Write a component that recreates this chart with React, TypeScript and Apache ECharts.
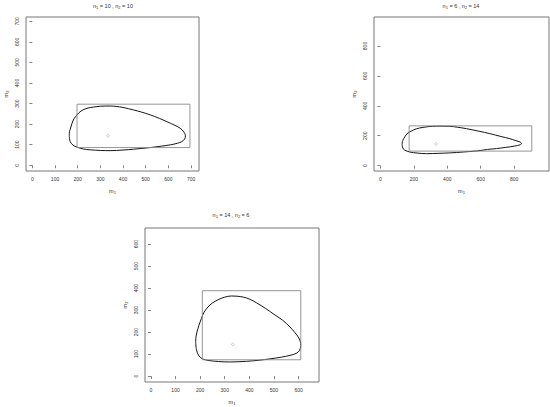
import React, { useEffect, useRef } from "react";
import * as echarts from "echarts";

// ---- data ----
const titleN1 = ["10", "6", "14"];
const titleN2 = ["10", "14", "6"];

const xTicks1 = [0, 100, 200, 300, 400, 500, 600, 700];
const yTicks1 = [0, 100, 200, 300, 400, 500, 600, 700];
const xTicks2 = [0, 200, 400, 600, 800];
const yTicks2 = [0, 200, 400, 600, 800];
const xTicks3 = [0, 100, 200, 300, 400, 500, 600];
const yTicks3 = [0, 100, 200, 300, 400, 500, 600];

const curve1: number[][] = [
  [163, 139], [167, 115], [180, 97], [197, 88], [225, 79], [255, 75], [300, 72], [343, 71],
  [400, 74], [446, 78], [520, 86], [570, 93], [608, 99], [640, 107], [659, 115], [672, 128],
  [675, 143], [668, 162], [652, 180], [625, 196], [593, 212], [560, 228], [520, 245], [480, 259],
  [446, 269], [400, 281], [370, 286], [343, 288], [300, 287], [270, 283], [241, 277], [215, 264],
  [197, 245], [183, 225], [175, 204], [167, 175], [163, 155], [163, 139],
];
const curve2: number[][] = [
  [130, 143], [134, 118], [145, 104], [176, 91], [220, 84], [275, 80], [345, 82], [415, 85],
  [495, 91], [575, 98], [640, 108], [694, 114], [750, 122], [804, 131], [835, 139], [844, 147],
  [835, 158], [810, 167], [774, 180], [720, 195], [654, 214], [590, 230], [515, 247], [460, 257],
  [415, 263], [335, 264], [290, 261], [255, 256], [215, 246], [186, 232], [160, 214], [146, 192],
  [134, 168], [130, 143],
];
const curve3: number[][] = [
  [182, 155], [185, 120], [195, 92], [212, 77], [240, 70], [275, 66], [320, 64], [388, 67],
  [440, 72], [483, 78], [530, 86], [565, 94], [590, 103], [603, 115], [609, 139], [606, 160],
  [599, 177], [585, 198], [565, 223], [535, 254], [497, 283], [465, 308], [429, 333], [400, 350],
  [375, 359], [350, 363], [327, 364], [298, 358], [273, 347], [250, 332], [232, 314], [215, 288],
  [205, 261], [195, 230], [187, 200], [183, 178], [182, 155],
];

// rectangles: [xMin, xMax, yMin, yMax]
const rect1 = [197, 695, 86, 297];
const rect2 = [172, 905, 97, 266];
const rect3 = [209, 609, 74, 388];

const point1 = [334, 143];
const point2 = [333, 145];
const point3 = [333, 144];

// ---- layout ----
const FONT = "Liberation Sans, Arial, sans-serif";
const TXT = "#333";
const panels = [
  { left: 26, top: 17, width: 173, height: 154, xr: [-28, 735], yr: [-28, 721], xt: xTicks1, yt: yTicks1, curve: curve1, rect: rect1, pt: point1, tx: 113, ty: 6 },
  { left: 374, top: 17, width: 175, height: 154, xr: [-38, 1008], yr: [-36, 994], xt: xTicks2, yt: yTicks2, curve: curve2, rect: rect2, pt: point2, tx: 461, ty: 6 },
  { left: 145, top: 228, width: 174, height: 154, xr: [-24, 683], yr: [-27, 673], xt: xTicks3, yt: yTicks3, curve: curve3, rect: rect3, pt: point3, tx: 231, ty: 215 },
];

const nameRich = {
  a: { fontSize: 5.5, color: TXT, fontFamily: FONT, lineHeight: 7 },
  s: { fontSize: 4, color: TXT, fontFamily: FONT, lineHeight: 4, verticalAlign: "bottom" },
};

function rectPoints(r: number[]) {
  return [[r[0], r[2]], [r[1], r[2]], [r[1], r[3]], [r[0], r[3]], [r[0], r[2]]];
}

export default function App() {
  const ref = useRef<HTMLDivElement>(null);
  useEffect(() => {
    if (!ref.current) return;
    const chart = echarts.init(ref.current, undefined, { renderer: "svg" });
    const grid = panels.map((p) => ({
      left: p.left, top: p.top, width: p.width, height: p.height,
      show: true, borderColor: "#777", borderWidth: 1, backgroundColor: "transparent",
      containLabel: false, outerBoundsMode: "none",
    }));
    const xAxis = panels.map((p, i) => ({
      type: "value", gridIndex: i, min: p.xr[0], max: p.xr[1],
      splitLine: { show: false },
      axisLine: { show: false },
      axisTick: { show: true, length: 3, customValues: p.xt, lineStyle: { color: "#666", width: 0.8 } },
      axisLabel: { customValues: p.xt, fontSize: 5, color: TXT, margin: 5, fontFamily: FONT },
      name: "{a|m}{s|1}", nameLocation: "middle", nameGap: 16,
      nameTextStyle: { color: TXT, rich: nameRich },
    }));
    const yAxis = panels.map((p, i) => ({
      type: "value", gridIndex: i, min: p.yr[0], max: p.yr[1],
      splitLine: { show: false },
      axisLine: { show: false },
      axisTick: { show: true, length: 3, customValues: p.yt, lineStyle: { color: "#666", width: 0.8 } },
      axisLabel: { customValues: p.yt, fontSize: 5, color: TXT, margin: 7, rotate: 90, fontFamily: FONT },
      name: "{a|m}{s|2}", nameLocation: "middle", nameGap: 17,
      nameTextStyle: { color: TXT, rich: nameRich },
    }));
    const series: any[] = [];
    panels.forEach((p, i) => {
      series.push({
        type: "line", xAxisIndex: i, yAxisIndex: i, data: p.curve, showSymbol: false,
        smooth: 0.35, silent: true, lineStyle: { color: "#151515", width: 1 },
      });
      series.push({
        type: "line", xAxisIndex: i, yAxisIndex: i, data: rectPoints(p.rect), showSymbol: false,
        silent: true, lineStyle: { color: "#8a8a8a", width: 0.9 },
      });
      series.push({
        type: "scatter", xAxisIndex: i, yAxisIndex: i, data: [p.pt], symbol: "circle",
        symbolSize: 2.6, silent: true,
        itemStyle: { color: "rgba(255,255,255,0)", borderColor: "#999", borderWidth: 0.6 },
      });
    });
    const graphic = panels.map((p, i) => ({
      type: "text", x: p.tx, y: p.ty, silent: true,
      style: {
        text: `{a|n}{s|1}{a| = ${titleN1[i]} , }{a|n}{s|2}{a| = ${titleN2[i]}}`,
        align: "center", verticalAlign: "middle", fill: TXT,
        rich: {
          a: { fontSize: 5.5, fill: TXT, color: TXT, fontFamily: FONT, lineHeight: 7 },
          s: { fontSize: 4, fill: TXT, color: TXT, fontFamily: FONT, lineHeight: 4, verticalAlign: "bottom" },
        },
      },
    }));
    chart.setOption({
      animation: false,
      backgroundColor: "#fff",
      grid, xAxis, yAxis, series, graphic,
    });
    return () => chart.dispose();
  }, []);
  return (
    <div
      ref={ref}
      style={{ position: "absolute", left: 0, top: 0, width: 550, height: 407, background: "#fff" }}
    />
  );
}
